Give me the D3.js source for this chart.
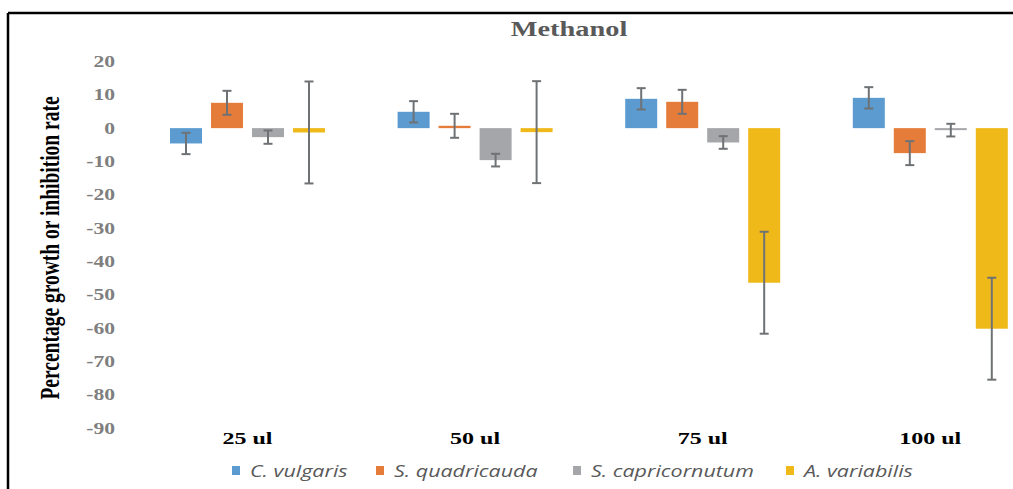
<!DOCTYPE html>
<html>
<head>
<meta charset="utf-8">
<script src="https://cdn.jsdelivr.net/npm/d3@7"></script>
<style>
  html, body { margin: 0; padding: 0; background: #fff; }
  svg { display: block; }
</style>
</head>
<body>
<svg id="chart" width="1013" height="489"></svg>
<script>
// Concentrations on the x axis
const categories = ["25 ul", "50 ul", "75 ul", "100 ul"];
// Algal species (series)
const seriesNames = ["C. vulgaris", "S. quadricauda", "S. capricornutum", "A. variabilis"];
// Percentage growth (+) or inhibition (-) per concentration
const cVulgaris      = [-4.6, 4.9, 8.8, 9.1];
const sQuadricauda   = [7.6, 0.7, 7.9, -7.5];
const sCapricornutum = [-2.7, -9.6, -4.3, -0.6];
const aVariabilis    = [-1.3, -1.2, -46.4, -60.2];
// Error bar half-lengths
const cVulgarisErr      = [3.2, 3.2, 3.2, 3.2];
const sQuadricaudaErr   = [3.6, 3.6, 3.6, 3.6];
const sCapricornutumErr = [2.0, 1.9, 1.9, 1.9];
const aVariabilisErr    = [15.3, 15.3, 15.3, 15.3];
// Y axis ticks
const yTicks = [20, 10, 0, -10, -20, -30, -40, -50, -60, -70, -80, -90];

const colors = ["#5b9bd0", "#e57c3a", "#a5a6a9", "#efb91a"];
const values = [cVulgaris, sQuadricauda, sCapricornutum, aVariabilis];
const errors = [cVulgarisErr, sQuadricaudaErr, sCapricornutumErr, aVariabilisErr];

const rows = [];
categories.forEach((c, ci) => {
  seriesNames.forEach((s, si) => {
    rows.push({ cat: c, series: s, si, value: values[si][ci], err: errors[si][ci] });
  });
});

const svg = d3.select("#chart");
const SX = 1.35; // horizontal stretch applied to the text
const serif = "Liberation Serif, Times New Roman, serif";

// Frame lines
svg.append("line").attr("x1", 8).attr("x2", 1013).attr("y1", 13).attr("y2", 13)
  .attr("stroke", "#000").attr("stroke-width", 2.5);
svg.append("line").attr("x1", 8).attr("x2", 8).attr("y1", 13).attr("y2", 489)
  .attr("stroke", "#000").attr("stroke-width", 2.5);

const y = d3.scaleLinear().domain([-90, 20]).range([428, 61.5]);
const x0 = d3.scaleBand().domain(categories).range([133.7, 1044.1])
  .paddingInner(0.319).paddingOuter(0.1595);
const x1 = d3.scaleBand().domain(seriesNames).range([0, x0.bandwidth()])
  .paddingInner(0.2195).paddingOuter(0);

// Title
svg.append("text")
  .attr("transform", `translate(569,36) scale(${SX},1)`)
  .attr("text-anchor", "middle")
  .attr("font-family", serif)
  .attr("font-weight", "bold")
  .attr("font-size", 21)
  .attr("fill", "#595959")
  .text("Methanol");

// Y axis title
svg.append("text")
  .attr("transform", `translate(59,248) rotate(-90) scale(1,${SX})`)
  .attr("text-anchor", "middle")
  .attr("font-family", serif)
  .attr("font-weight", "bold")
  .attr("font-size", 19.5)
  .attr("fill", "#000")
  .text("Percentage growth or inhibition rate");

// Y axis (labels only)
const yAxis = svg.append("g")
  .attr("transform", "translate(115,0)")
  .call(d3.axisLeft(y).tickValues(yTicks).tickSize(0).tickPadding(0).tickFormat(d3.format("d")));
yAxis.select(".domain").remove();
yAxis.selectAll("text")
  .attr("x", 0)
  .attr("transform", `scale(${SX},1)`)
  .attr("font-family", serif)
  .attr("font-weight", "bold")
  .attr("font-size", 16)
  .attr("fill", "#7f7f7f")
  .text(d => d < 0 ? "-" + Math.abs(d) : d);

// X axis (labels only)
const xAxis = svg.append("g")
  .attr("transform", "translate(0,430)")
  .call(d3.axisBottom(x0).tickSize(0).tickPadding(0));
xAxis.select(".domain").remove();
xAxis.selectAll("text")
  .attr("y", 0).attr("dy", "0.88em")
  .attr("transform", `scale(1.5,1)`)
  .attr("font-family", serif)
  .attr("font-weight", "bold")
  .attr("font-size", 16)
  .attr("fill", "#000");

// Bars
const groups = svg.append("g").selectAll("g")
  .data(categories).join("g")
  .attr("transform", d => `translate(${x0(d)},0)`);

groups.selectAll("rect")
  .data(c => rows.filter(r => r.cat === c))
  .join("rect")
  .attr("x", d => x1(d.series))
  .attr("width", x1.bandwidth())
  .attr("y", d => y(Math.max(0, d.value)))
  .attr("height", d => Math.abs(y(d.value) - y(0)))
  .attr("fill", d => colors[d.si]);

// Error bars
const eb = groups.selectAll("g.err")
  .data(c => rows.filter(r => r.cat === c))
  .join("g").attr("class", "err")
  .attr("stroke", "#6f7275").attr("stroke-width", 2);
eb.append("line")
  .attr("x1", d => x1(d.series) + x1.bandwidth() / 2)
  .attr("x2", d => x1(d.series) + x1.bandwidth() / 2)
  .attr("y1", d => y(d.value + d.err))
  .attr("y2", d => y(d.value - d.err));
[1, -1].forEach(sgn => {
  eb.append("line")
    .attr("x1", d => x1(d.series) + x1.bandwidth() / 2 - 4.5)
    .attr("x2", d => x1(d.series) + x1.bandwidth() / 2 + 4.5)
    .attr("y1", d => y(d.value + sgn * d.err))
    .attr("y2", d => y(d.value + sgn * d.err));
});

// Legend
const legendX = [232, 376, 573, 786];
const legend = svg.append("g").selectAll("g")
  .data(seriesNames).join("g")
  .attr("transform", (d, i) => `translate(${legendX[i]},466)`);
legend.append("rect").attr("width", 8).attr("height", 9)
  .attr("fill", (d, i) => colors[i]);
legend.append("text")
  .attr("transform", `translate(18,10.5) scale(1.3,1)`)
  .attr("font-family", "Open Sans, Noto Sans, sans-serif")
  .attr("font-style", "italic")
  .attr("font-size", 16.5)
  .attr("fill", "#595959")
  .text(d => d);
</script>
</body>
</html>
